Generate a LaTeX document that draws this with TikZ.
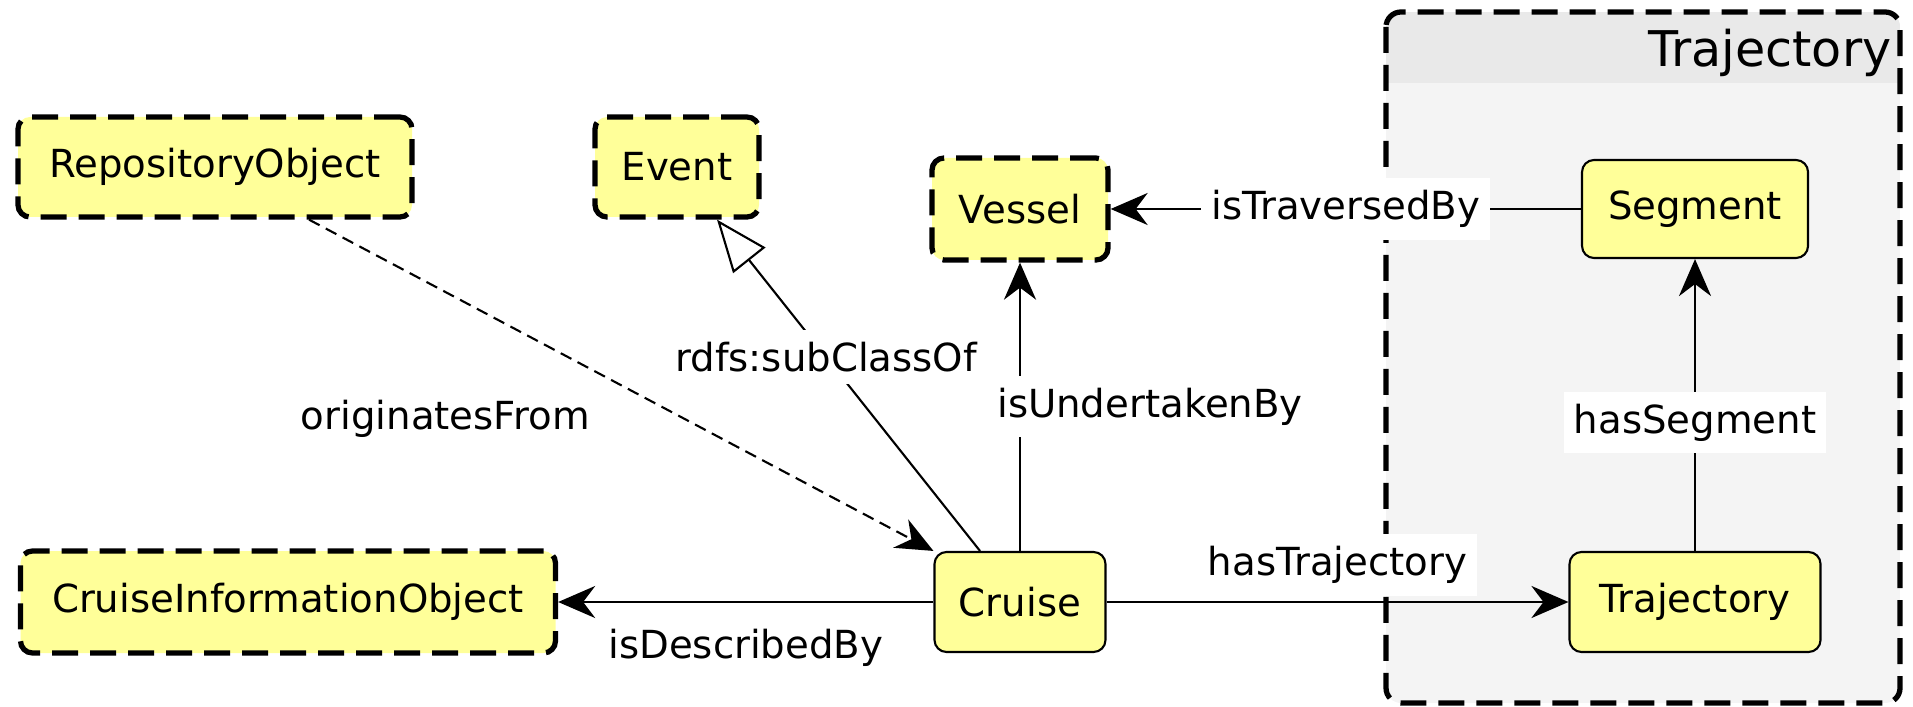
\documentclass[tikz,border=0pt]{standalone}
\usepackage{fontspec}
\setmainfont{DejaVu Sans}
\usetikzlibrary{arrows.meta,positioning}
\definecolor{classyellow}{RGB}{255,255,153}
\definecolor{framehead}{RGB}{233,233,233}
\definecolor{framebody}{RGB}{244,244,244}
\begin{document}
\begin{tikzpicture}[x=0.1mm, y=-0.1mm,
		every node/.style={font=\fontsize{11}{13}\selectfont},
		cls/.style={draw, fill=classyellow, rounded corners=1.2mm, line width=0.6pt, inner sep=0},
		ext/.style={cls, line width=1.5pt, dash pattern=on 2.6mm off 1.2mm},
		lbl/.style={fill=white, inner xsep=1mm, inner ysep=1.2mm},
		rel/.style={line width=0.8pt, -{Stealth[length=3.7mm, width=3.2mm, inset=1.2mm]}}]
		\useasboundingbox (0,0) rectangle (1913,707);
		\begin{scope}
		\clip[rounded corners=1.5mm] (1386,12) rectangle (1900,703);
		\fill[framebody] (1386,12) rectangle (1900,703);
		\fill[framehead] (1386,12) rectangle (1900,83);
		\end{scope}
		\draw[line width=1.5pt, dash pattern=on 2.6mm off 1.2mm, rounded corners=1.5mm] (1386,12) rectangle (1900,703);
		\node[anchor=base east, inner sep=0, font=\fontsize{14}{16}\selectfont] (TrajTitle) at (1892,67) {Trajectory};
		\node[ext, minimum width=39.4mm, minimum height=10mm] (RepositoryObject) at (215,167) {RepositoryObject};
		\node[ext, minimum width=16.4mm, minimum height=10mm] (Event) at (677,167) {Event};
		\node[ext, minimum width=17.6mm, minimum height=10.2mm] (Vessel) at (1020,209) {Vessel};
		\node[cls, minimum width=22.6mm, minimum height=9.8mm] (Segment) at (1695,209) {Segment};
		\node[cls, minimum width=17.1mm, minimum height=10mm] (Cruise) at (1020,602) {Cruise};
		\node[ext, minimum width=53.5mm, minimum height=10.2mm] (CruiseInformationObject) at (288,602) {CruiseInformationObject};
		\node[cls, minimum width=25.1mm, minimum height=10mm] (Trajectory) at (1695,602) {Trajectory};
		\draw[rel] (Segment) -- (Vessel) node[lbl, midway] {isTraversedBy};
		\draw[rel] (Cruise) -- (Vessel) node[lbl, midway, xshift=13mm] {isUndertakenBy};
		\draw[line width=0.6pt, -{Triangle[open, length=5.2mm, width=4.1mm]}] ([xshift=-4mm]Cruise.north) -- ([xshift=4mm]Event.south) node[lbl, pos=.585] {rdfs:subClassOf};
		\draw[line width=0.6pt, dash pattern=on 1.2mm off 0.7mm, -{Stealth[length=3.7mm, width=3.2mm, inset=1.2mm]}] ([xshift=9.4mm]RepositoryObject.south) -- (Cruise.north west) node[lbl, pos=.6, left=8.3mm] {originatesFrom};
		\draw[rel] (Trajectory) -- (Segment) node[lbl, pos=.44] {hasSegment};
		\draw[rel] (Cruise) -- (Trajectory) node[lbl, midway, above=0.5mm] {hasTrajectory};
		\draw[rel] (Cruise) -- (CruiseInformationObject) node[lbl, midway, below=1.4mm] {isDescribedBy};
\end{tikzpicture}
\end{document}
